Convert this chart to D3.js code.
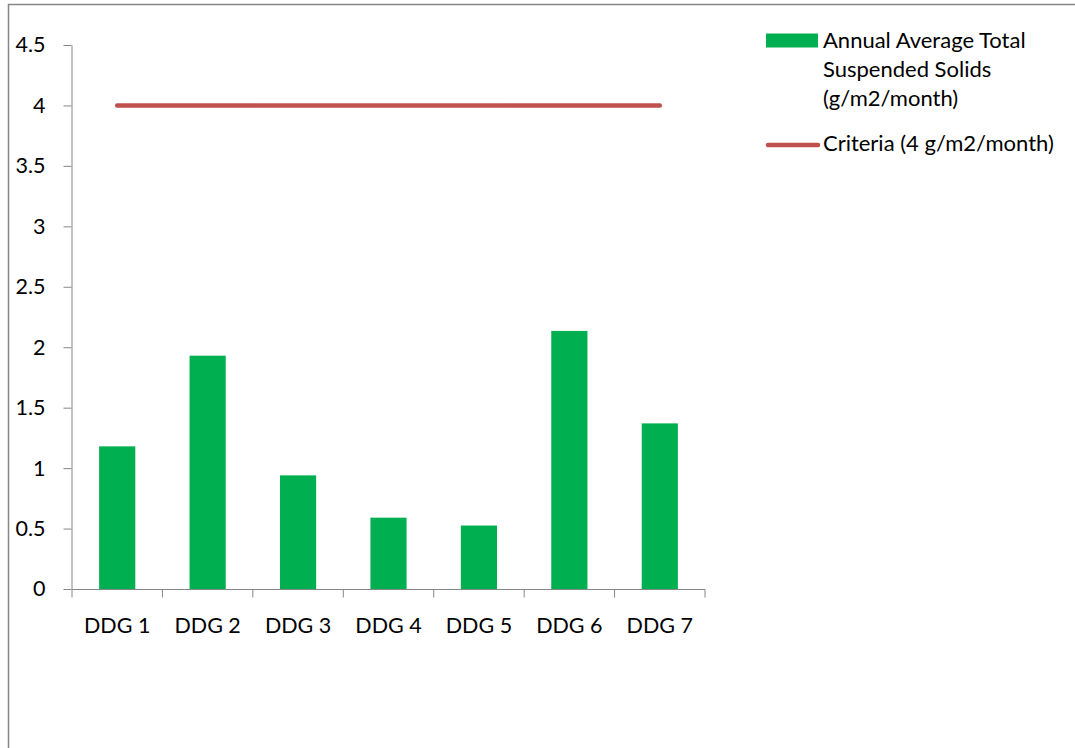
<!DOCTYPE html>
<html>
<head>
<meta charset="utf-8">
<script src="https://cdn.jsdelivr.net/npm/d3@7"></script>
<style>
  body { margin: 0; background: #fff; }
  text { font-family: Lato, "Open Sans", sans-serif; fill: #000; }
</style>
</head>
<body>
<div id="chart"></div>
<script>
const width = 1075,
height = 748;

const categories = ["DDG 1", "DDG 2", "DDG 3", "DDG 4", "DDG 5", "DDG 6", "DDG 7"]
const tssValues = [1.18, 1.93, 0.94, 0.59, 0.525, 2.135, 1.37]
const criteriaValues = [4, 4, 4, 4, 4, 4, 4]
const yTicks = [0, 0.5, 1, 1.5, 2, 2.5, 3, 3.5, 4, 4.5]
const legendLabels = [["Annual Average Total", "Suspended Solids", "(g/m2/month)"], ["Criteria (4 g/m2/month)"]]

const svg = d3.select("#chart")
            .append("svg")
            .attr("width", width)
            .attr("height", height)

// chart area frame
svg.append("rect")
  .attr("x", 8.5).attr("y", 4.5)
  .attr("width", 1100).attr("height", 800)
  .attr("fill", "none")
  .attr("stroke", "#868686")
  .attr("stroke-width", 1.5)

const x = d3.scaleBand()
            .domain(categories)
            .range([72, 705])
            .paddingInner(0.6)
            .paddingOuter(0.3)

const y = d3.scaleLinear()
            .domain([0, 4.5])
            .range([589, 45])

// y axis
const yAxis = svg.append("g")
  .attr("transform", "translate(71.5,0)")
  .call(d3.axisLeft(y).tickValues(yTicks).tickFormat(d3.format("")).tickSize(8).tickSizeOuter(0))
yAxis.select(".domain").attr("stroke", "#868686")
yAxis.selectAll(".tick line").attr("stroke", "#868686")
yAxis.selectAll(".tick text")
  .attr("x", -26)
  .style("font-size", "21.5px")

// bars
svg.selectAll("rect.bar")
  .data(tssValues)
  .join("rect")
  .attr("class", "bar")
  .attr("x", (d, i) => x(categories[i]))
  .attr("width", x.bandwidth())
  .attr("y", d => y(d))
  .attr("height", d => y(0) - y(d))
  .attr("fill", "#00B050")

// x axis, ticks between categories
const xEdges = d3.range(categories.length + 1).map(i => 72 + i * x.step())
const xAxis = svg.append("g")
  .attr("transform", "translate(0,589.5)")
xAxis.append("line")
  .attr("x1", 72).attr("x2", 705)
  .attr("stroke", "#868686")
xAxis.selectAll("line.tk")
  .data(xEdges)
  .join("line")
  .attr("class", "tk")
  .attr("x1", d => d).attr("x2", d => d)
  .attr("y1", 0).attr("y2", 8)
  .attr("stroke", "#868686")
xAxis.selectAll("text")
  .data(categories)
  .join("text")
  .attr("x", d => x(d) + x.bandwidth() / 2)
  .attr("y", 43)
  .attr("text-anchor", "middle")
  .style("font-size", "21.5px")
  .text(d => d)

// criteria line
const line = d3.line()
  .x((d, i) => x(categories[i]) + x.bandwidth() / 2)
  .y(d => y(d))
svg.append("path")
  .datum(criteriaValues)
  .attr("d", line)
  .attr("fill", "none")
  .attr("stroke", "#C0504D")
  .attr("stroke-width", 4.5)
  .attr("stroke-linecap", "round")

// legend
const legend = svg.append("g")
legend.append("rect")
  .attr("x", 766).attr("y", 33.5)
  .attr("width", 52).attr("height", 14)
  .attr("fill", "#00B050")
legend.append("text")
  .attr("x", 823).attr("y", 48)
  .style("font-size", "22px")
  .selectAll("tspan")
  .data(legendLabels[0])
  .join("tspan")
  .attr("x", 823)
  .attr("dy", (d, i) => i ? 29 : 0)
  .text(d => d)
legend.append("line")
  .attr("x1", 768).attr("x2", 818)
  .attr("y1", 145).attr("y2", 145)
  .attr("stroke", "#C0504D")
  .attr("stroke-width", 4.5)
  .attr("stroke-linecap", "round")
legend.append("text")
  .attr("x", 823).attr("y", 151)
  .style("font-size", "22px")
  .text(legendLabels[1][0])
</script>
</body>
</html>
